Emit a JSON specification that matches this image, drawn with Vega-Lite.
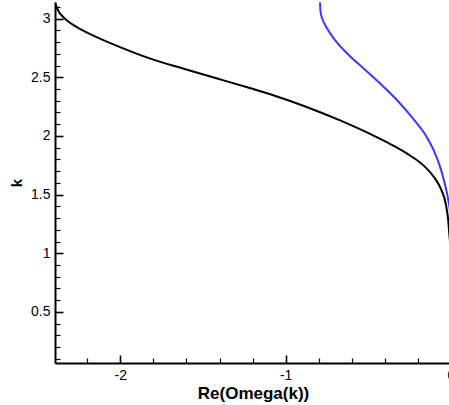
{
  "$schema": "https://vega.github.io/schema/vega-lite/v6.json",
  "autosize": "none",
  "padding": {"left": 55, "top": 2, "right": 0, "bottom": 40},
  "width": 396,
  "height": 361,
  "background": "white",
  "config": {
    "view": {"stroke": null},
    "axis": {
      "grid": false,
      "domainColor": "black",
      "domainWidth": 2,
      "tickColor": "black",
      "tickWidth": 1.5,
      "labelFont": "Liberation Sans",
      "labelFontSize": 14,
      "labelColor": "black",
      "titleFont": "Liberation Sans",
      "titleFontWeight": "bold",
      "titleColor": "black",
      "labelFlush": false,
      "labelOverlap": false,
      "labelBound": false
    }
  },
  "data": {
    "values": [
      {"series": "mode 1", "re": -2.394, "k": 3.135},
      {"series": "mode 1", "re": -2.385, "k": 3.095},
      {"series": "mode 1", "re": -2.37, "k": 3.055},
      {"series": "mode 1", "re": -2.35, "k": 3.02},
      {"series": "mode 1", "re": -2.333, "k": 2.996},
      {"series": "mode 1", "re": -2.3, "k": 2.96},
      {"series": "mode 1", "re": -2.25, "k": 2.917},
      {"series": "mode 1", "re": -2.222, "k": 2.895},
      {"series": "mode 1", "re": -2.12, "k": 2.828},
      {"series": "mode 1", "re": -2.02, "k": 2.768},
      {"series": "mode 1", "re": -1.818, "k": 2.659},
      {"series": "mode 1", "re": -1.616, "k": 2.573},
      {"series": "mode 1", "re": -1.414, "k": 2.49},
      {"series": "mode 1", "re": -1.212, "k": 2.406},
      {"series": "mode 1", "re": -1.071, "k": 2.345},
      {"series": "mode 1", "re": -0.869, "k": 2.245},
      {"series": "mode 1", "re": -0.667, "k": 2.13},
      {"series": "mode 1", "re": -0.465, "k": 2.0},
      {"series": "mode 1", "re": -0.364, "k": 1.928},
      {"series": "mode 1", "re": -0.263, "k": 1.847},
      {"series": "mode 1", "re": -0.162, "k": 1.743},
      {"series": "mode 1", "re": -0.101, "k": 1.646},
      {"series": "mode 1", "re": -0.061, "k": 1.548},
      {"series": "mode 1", "re": -0.03, "k": 1.41},
      {"series": "mode 1", "re": -0.016, "k": 1.27},
      {"series": "mode 1", "re": -0.01, "k": 1.16},
      {"series": "mode 1", "re": -0.006, "k": 1.1},
      {"series": "mode 2", "re": -0.792, "k": 3.14},
      {"series": "mode 2", "re": -0.791, "k": 3.1},
      {"series": "mode 2", "re": -0.788, "k": 3.051},
      {"series": "mode 2", "re": -0.776, "k": 2.99},
      {"series": "mode 2", "re": -0.758, "k": 2.937},
      {"series": "mode 2", "re": -0.707, "k": 2.828},
      {"series": "mode 2", "re": -0.626, "k": 2.7},
      {"series": "mode 2", "re": -0.525, "k": 2.57},
      {"series": "mode 2", "re": -0.424, "k": 2.44},
      {"series": "mode 2", "re": -0.323, "k": 2.3},
      {"series": "mode 2", "re": -0.222, "k": 2.135},
      {"series": "mode 2", "re": -0.162, "k": 2.025},
      {"series": "mode 2", "re": -0.121, "k": 1.925},
      {"series": "mode 2", "re": -0.101, "k": 1.866},
      {"series": "mode 2", "re": -0.061, "k": 1.715},
      {"series": "mode 2", "re": -0.03, "k": 1.548},
      {"series": "mode 2", "re": -0.02, "k": 1.482},
      {"series": "mode 2", "re": -0.01, "k": 1.4},
      {"series": "mode 2", "re": -0.005, "k": 1.34},
      {"series": "mode 2", "re": -0.002, "k": 1.29}
    ]
  },
  "layer": [
    {
      "transform": [{"filter": "datum.series === 'mode 1'"}],
      "mark": {"type": "line", "strokeWidth": 2, "clip": true, "interpolate": "monotone", "color": "black"},
      "encoding": {
        "x": {
          "field": "re",
          "type": "quantitative",
          "scale": {"domain": [-2.395, 0], "nice": false, "zero": false},
          "axis": {
            "orient": "bottom",
            "title": "Re(Omega(k))",
            "titleFontSize": 17,
            "titleBaseline": "alphabetic",
            "titleY": 35,
            "values": [-2, -1, 0],
            "ticks": false,
            "labelPadding": 5,
            "labelExpr": "'' + datum.value"
          }
        },
        "y": {
          "field": "k",
          "type": "quantitative",
          "scale": {"domain": [0.065, 3.1416], "nice": false, "zero": false},
          "axis": {
            "orient": "left",
            "title": "k",
            "titleFontSize": 15,
            "titleAngle": 270,
            "titleBaseline": "alphabetic",
            "titleX": -34,
            "titleY": 180.5,
            "values": [0.5, 1, 1.5, 2, 2.5, 3],
            "ticks": false,
            "labelPadding": 5,
            "labelExpr": "'' + datum.value"
          }
        },
        "order": {"field": "k", "sort": "descending"}
      }
    },
    {
      "transform": [{"filter": "datum.series === 'mode 2'"}],
      "mark": {"type": "line", "strokeWidth": 2, "clip": true, "interpolate": "monotone", "color": "#3a3aff"},
      "encoding": {
        "x": {
          "field": "re",
          "type": "quantitative",
          "scale": {"domain": [-2.395, 0], "nice": false, "zero": false},
          "axis": {
            "orient": "bottom",
            "title": null,
            "labels": false,
            "domain": false,
            "offset": -8,
            "values": [-2, -1, 0],
            "tickSize": 8,
            "tickWidth": 1.6
          }
        },
        "y": {
          "field": "k",
          "type": "quantitative",
          "scale": {"domain": [0.065, 3.1416], "nice": false, "zero": false},
          "axis": {
            "orient": "left",
            "title": null,
            "labels": false,
            "domain": false,
            "offset": -8,
            "values": [0.5, 1, 1.5, 2, 2.5, 3],
            "tickSize": 8,
            "tickWidth": 1.6
          }
        },
        "order": {"field": "k", "sort": "descending"}
      }
    },
    {
      "transform": [{"filter": "datum.series === 'none'"}],
      "mark": {"type": "line", "strokeWidth": 2, "clip": true, "color": "black"},
      "encoding": {
        "x": {
          "field": "re",
          "type": "quantitative",
          "scale": {"domain": [-2.395, 0], "nice": false, "zero": false},
          "axis": {
            "orient": "bottom",
            "title": null,
            "labels": false,
            "domain": false,
            "offset": -5,
            "values": [-2.2, -1.8, -1.6, -1.4, -1.2, -0.8, -0.6, -0.4, -0.2],
            "tickSize": 5,
            "tickWidth": 1.2
          }
        },
        "y": {
          "field": "k",
          "type": "quantitative",
          "scale": {"domain": [0.065, 3.1416], "nice": false, "zero": false},
          "axis": {
            "orient": "left",
            "title": null,
            "labels": false,
            "domain": false,
            "offset": -5,
            "values": [0.1, 0.2, 0.3, 0.4, 0.6, 0.7, 0.8, 0.9, 1.1, 1.2, 1.3, 1.4, 1.6, 1.7, 1.8, 1.9, 2.1, 2.2, 2.3, 2.4, 2.6, 2.7, 2.8, 2.9, 3.1],
            "tickSize": 5,
            "tickWidth": 1.2
          }
        }
      }
    }
  ],
  "resolve": {"axis": {"x": "independent", "y": "independent"}}
}
